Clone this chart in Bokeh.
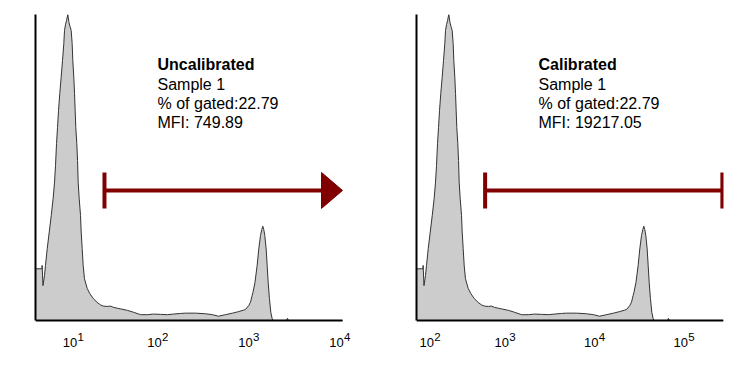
from bokeh.plotting import figure
from bokeh.layouts import row
from bokeh.models import Range1d, FixedTicker, Label, Arrow, TeeHead
from bokeh.embed import file_html
from bokeh.resources import INLINE

# Histogram outline: uncalibrated log10 intensity vs. count (% of max)
hist_log = [0.659, 0.730, 0.732, 0.741, 0.758, 0.769, 0.788, 0.810, 0.832, 0.853,
            0.868, 0.879, 0.890, 0.901, 0.912, 0.926, 0.941, 0.956, 0.970, 0.978,
            0.989, 1.000, 1.014, 1.027, 1.038, 1.051, 1.062, 1.069, 1.080, 1.088,
            1.095, 1.102, 1.113, 1.121, 1.128, 1.139, 1.154, 1.161, 1.172, 1.183,
            1.197, 1.227, 1.256, 1.293, 1.337, 1.373, 1.406, 1.450, 1.483, 1.516,
            1.560, 1.593, 1.670, 1.736, 1.813, 1.890, 1.956, 2.033, 2.110, 2.176,
            2.252, 2.307, 2.417, 2.527, 2.604, 2.670, 2.747, 2.824, 2.890, 2.948,
            2.967, 3.003, 3.022, 3.040, 3.049, 3.071, 3.095, 3.113, 3.132, 3.146,
            3.157, 3.168, 3.179, 3.194, 3.205, 3.216, 3.230, 3.245, 3.260, 3.271,
            3.417, 3.428, 3.439, 4.033]
hist_pct = [16.9, 16.9, 18.0, 11.4, 14.7, 18.0, 23.5, 28.9, 34.3, 39.9,
            45.2, 50.7, 57.8, 63.1, 68.6, 74.2, 79.5, 85.0, 90.5, 94.8,
            96.7, 98.0, 100.0, 97.4, 96.1, 94.8, 90.5, 85.0, 79.5, 74.2,
            68.6, 63.1, 57.8, 52.3, 45.2, 39.9, 34.3, 28.9, 23.5, 18.0,
            13.7, 10.5, 8.8, 7.2, 5.9, 5.1, 4.7, 4.6, 4.7, 4.3,
            4.0, 3.8, 3.3, 2.7, 1.9, 1.9, 2.1, 2.0, 1.9, 2.1,
            2.3, 2.4, 2.4, 2.2, 1.9, 1.4, 1.9, 2.4, 2.9, 3.4,
            3.6, 4.9, 6.0, 8.2, 9.2, 12.4, 18.0, 23.4, 27.8, 29.7,
            30.8, 29.7, 27.8, 23.4, 18.0, 12.5, 7.2, 2.7, 0.6, 0.0,
            0.0, 0.7, 0.0, 0.0]
assert len(hist_log) == len(hist_pct)

# Calibration (log-linear): cal = offset + slope * uncal
cal_slope = 1.017
cal_offset = 1.3428
unc_range = (0.659, 4.033)

unc_ticks = [1.07, 2, 3, 4]
unc_exponents = ["1", "2", "3", "4"]
cal_ticks = [2.16, 3, 4, 5]
cal_exponents = ["2", "3", "4", "5"]

unc_gate = (1.417, 4.033)
cal_gate = (2.780, 5.432)
gate_level = 42.5

unc_text = ["Uncalibrated", "Sample 1", "% of gated:22.79", "MFI: 749.89"]
cal_text = ["Calibrated", "Sample 1", "% of gated:22.79", "MFI: 19217.05"]
text_x_unc = 2.0
text_levels = [83.5, 77.2, 71.0, 64.7]

FILL = "#cccccc"
EDGE = "#333333"
RED = "#800000"
FONT = "Liberation Sans"
AXIS_PX = 307              # drawn axis length in px
PX_PER_PCT = 3.06          # frame: 306 px for 0..100 %
Y_MIN = -40 / PX_PER_PCT   # frame continues 40 px below the baseline for tick labels


def cal(v):
    return cal_offset + cal_slope * v


def panel(xs, x_rng, ticks, exps, width, bl, extra_r, lines, text_x, gate, open_end):
    px_per_dec = AXIS_PX / (x_rng[1] - x_rng[0])
    frame_end = x_rng[1] + extra_r / px_per_dec
    br = width - bl - AXIS_PX - extra_r
    p = figure(width=width, height=362, x_range=Range1d(x_rng[0], frame_end),
               y_range=Range1d(Y_MIN, 100),
               output_backend="svg", toolbar_location=None,
               min_border_left=bl, min_border_right=br, min_border_top=14, min_border_bottom=2)
    p.xgrid.visible = False
    p.ygrid.visible = False
    p.outline_line_color = None
    p.background_fill_color = "white"
    p.border_fill_color = "white"

    p.varea(x=xs, y1=0, y2=hist_pct, fill_color=FILL)
    p.line(xs, hist_pct, line_color=EDGE, line_width=1)

    ax = p.xaxis[0]
    ax.fixed_location = 0
    ax.bounds = x_rng
    ax.ticker = FixedTicker(ticks=[])
    ax.major_tick_out = 0
    ax.minor_tick_out = 0
    ax.major_label_standoff = 0
    ax.major_tick_line_color = None
    ax.minor_tick_line_color = None
    ax.axis_line_width = 2
    ax.axis_line_color = "black"

    ay = p.yaxis[0]
    ay.bounds = (0, 100)
    ay.ticker = FixedTicker(ticks=[])
    ay.major_tick_out = 0
    ay.minor_tick_out = 0
    ay.major_label_standoff = 0
    ay.major_tick_line_color = None
    ay.minor_tick_line_color = None
    ay.axis_line_width = 2
    ay.axis_line_color = "black"

    # decade tick labels "10" with raised exponent
    for t, e in zip(ticks, exps):
        p.add_layout(Label(x=t, y=0, text="10", x_offset=-3, y_offset=-22,
                           text_font=FONT, text_font_size="13px", text_color="black",
                           text_baseline="alphabetic", text_align="center"))
        p.add_layout(Label(x=t, y=0, text=e, x_offset=4.5, y_offset=-16,
                           text_font=FONT, text_font_size="11.5px", text_color="black",
                           text_baseline="alphabetic", text_align="left"))

    for i, (txt, yv) in enumerate(zip(lines, text_levels)):
        p.add_layout(Label(x=text_x, y=yv, text=txt, text_font=FONT, text_font_size="16px",
                           text_font_style="bold" if i == 0 else "normal",
                           text_color="black", text_baseline="alphabetic", text_align="left"))

    hl = 21 / px_per_dec
    hw = 18 / PX_PER_PCT
    if open_end:
        line_end = gate[1] - hl
        p.add_layout(Arrow(x_start=gate[0], y_start=gate_level, x_end=line_end, y_end=gate_level,
                           start=TeeHead(size=36, line_color=RED, line_width=4), end=None,
                           line_color=RED, line_width=4))
        p.patch(x=[line_end, gate[1], line_end], y=[gate_level + hw, gate_level, gate_level - hw],
                fill_color=RED, line_color=RED, line_width=1)
    else:
        p.add_layout(Arrow(x_start=gate[0], y_start=gate_level, x_end=gate[1], y_end=gate_level,
                           start=TeeHead(size=36, line_color=RED, line_width=4),
                           end=TeeHead(size=36, line_color=RED, line_width=4),
                           line_color=RED, line_width=4))
    return p


cal_log = [cal(v) for v in hist_log]
cal_range = (cal(unc_range[0]), cal(unc_range[1]))

p1 = panel(hist_log, unc_range, unc_ticks, unc_exponents, 378, 35, 16,
           unc_text, text_x_unc, unc_gate, True)
p2 = panel(cal_log, cal_range, cal_ticks, cal_exponents, 357, 38, 0,
           cal_text, cal(text_x_unc), cal_gate, False)

layout = row(p1, p2)
open("out.html", "w").write(file_html(layout, INLINE))
